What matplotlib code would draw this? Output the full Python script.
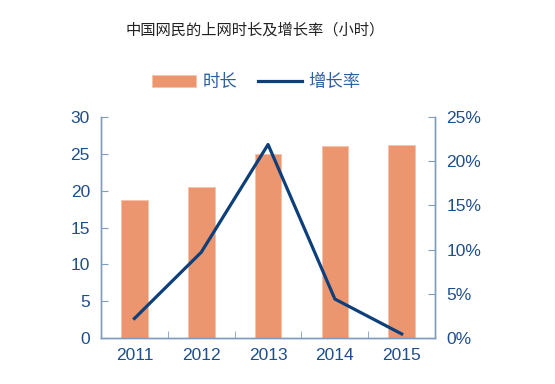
import matplotlib.pyplot as plt
from matplotlib.ticker import PercentFormatter, FixedLocator

years = ['2011', '2012', '2013', '2014', '2015']
hours = [18.7, 20.5, 25.0, 26.1, 26.2]
growth = [2.2, 9.7, 21.9, 4.4, 0.45]

bar_color = '#EC9670'
line_color = '#0D3F7A'
spine_color = '#7F9DC0'
label_color = '#1F4E8C'
cjk = ['Noto Sans CJK SC', 'DejaVu Sans']

plt.rcParams['font.family'] = ['Liberation Sans', 'DejaVu Sans']

fig = plt.figure(figsize=(5.55, 3.84), dpi=100)
ax = fig.add_axes([0.182, 0.12, 0.602, 0.575])
ax2 = ax.twinx()

x = list(range(len(years)))
bars = ax.bar(x, hours, width=0.4, color=bar_color, edgecolor='#F6C2A8',
              linewidth=0.6, label='时长', zorder=2)
line, = ax2.plot(x, growth, color=line_color, lw=2.3, label='增长率', zorder=3)

ax.set_xlim(-0.5, 4.5)
ax.set_ylim(0, 30)
ax.set_yticks(range(0, 31, 5))
ax2.set_ylim(0, 25)
ax2.set_yticks(range(0, 26, 5))
ax2.yaxis.set_major_formatter(PercentFormatter(decimals=0))

ax.set_xticks(x)
ax.set_xticklabels(years)
ax.xaxis.set_minor_locator(FixedLocator([0.5, 1.5, 2.5, 3.5]))
ax.tick_params(axis='x', which='major', length=0, pad=7, labelsize=12.5, labelcolor=label_color)
ax.tick_params(axis='x', which='minor', length=5, direction='in', color=spine_color)
ax.tick_params(axis='y', length=5, direction='in', color=spine_color, pad=8,
               labelsize=12.5, labelcolor=label_color)
ax2.tick_params(axis='y', length=5, direction='in', color=spine_color, pad=8,
                labelsize=12.5, labelcolor=label_color)

for a in (ax, ax2):
    a.spines['top'].set_visible(False)
    for s in ('left', 'right', 'bottom'):
        a.spines[s].set_color(spine_color)
        a.spines[s].set_linewidth(1.0)

fig.text(0.459, 0.922, '中国网民的上网时长及增长率（小时）', ha='center', va='center',
         fontsize=11, family=cjk, color='#222222')

leg = fig.legend([bars, line], ['时长', '增长率'], loc='center', bbox_to_anchor=(0.462, 0.786),
                 ncol=2, frameon=False, handlelength=2.5, handletextpad=0.4,
                 columnspacing=1.2, prop={'family': cjk, 'size': 12.5})
for t in leg.get_texts():
    t.set_color('#2F5F9F')

fig.savefig('out.png', dpi=100)
